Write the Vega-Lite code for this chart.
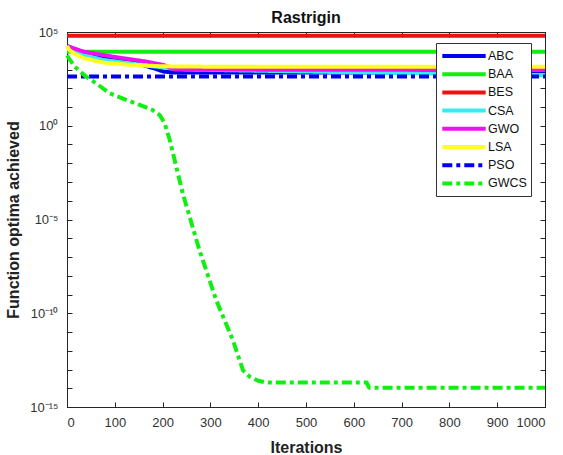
{
  "$schema": "https://vega.github.io/schema/vega-lite/v6.json",
  "width": 478,
  "height": 375,
  "autosize": {"type": "none"},
  "padding": {"left": 67, "top": 32, "right": 18, "bottom": 48},
  "background": "white",
  "title": {"text": "Rastrigin", "fontSize": 16, "fontWeight": "bold", "font": "Liberation Sans", "color": "#111111", "offset": 0},
  "data": {"values": [
    {"s": "ABC", "x": 0, "y": 17783},
    {"s": "ABC", "x": 35, "y": 7943},
    {"s": "ABC", "x": 97, "y": 3981},
    {"s": "ABC", "x": 132, "y": 2630},
    {"s": "ABC", "x": 181, "y": 1175},
    {"s": "ABC", "x": 202, "y": 776},
    {"s": "ABC", "x": 225, "y": 692},
    {"s": "ABC", "x": 1000, "y": 692},
    {"s": "BAA", "x": 0, "y": 8913},
    {"s": "BAA", "x": 1000, "y": 8913},
    {"s": "BES", "x": 0, "y": 63000},
    {"s": "BES", "x": 1000, "y": 63000},
    {"s": "CSA", "x": 0, "y": 17783},
    {"s": "CSA", "x": 14, "y": 9772},
    {"s": "CSA", "x": 35, "y": 5888},
    {"s": "CSA", "x": 76, "y": 3236},
    {"s": "CSA", "x": 132, "y": 2138},
    {"s": "CSA", "x": 173, "y": 1549},
    {"s": "CSA", "x": 210, "y": 1202},
    {"s": "CSA", "x": 250, "y": 1000},
    {"s": "CSA", "x": 600, "y": 708},
    {"s": "CSA", "x": 1000, "y": 501},
    {"s": "GWO", "x": 0, "y": 17783},
    {"s": "GWO", "x": 35, "y": 8913},
    {"s": "GWO", "x": 97, "y": 4786},
    {"s": "GWO", "x": 166, "y": 2630},
    {"s": "GWO", "x": 202, "y": 1738},
    {"s": "GWO", "x": 225, "y": 1000},
    {"s": "GWO", "x": 1000, "y": 933},
    {"s": "LSA", "x": 0, "y": 17783},
    {"s": "LSA", "x": 5, "y": 10965},
    {"s": "LSA", "x": 14, "y": 7244},
    {"s": "LSA", "x": 35, "y": 3981},
    {"s": "LSA", "x": 76, "y": 2344},
    {"s": "LSA", "x": 132, "y": 1778},
    {"s": "LSA", "x": 200, "y": 1479},
    {"s": "LSA", "x": 300, "y": 1413},
    {"s": "LSA", "x": 1000, "y": 1413},
    {"s": "PSO", "x": 0, "y": 417},
    {"s": "PSO", "x": 1000, "y": 417},
    {"s": "GWCS", "x": 0, "y": 5623},
    {"s": "GWCS", "x": 4, "y": 3981},
    {"s": "GWCS", "x": 16, "y": 1413},
    {"s": "GWCS", "x": 40, "y": 417},
    {"s": "GWCS", "x": 61, "y": 182},
    {"s": "GWCS", "x": 89, "y": 53.7},
    {"s": "GWCS", "x": 116, "y": 28.8},
    {"s": "GWCS", "x": 152, "y": 12.9},
    {"s": "GWCS", "x": 179, "y": 6.92},
    {"s": "GWCS", "x": 194, "y": 3.72},
    {"s": "GWCS", "x": 204, "y": 1.41},
    {"s": "GWCS", "x": 215, "y": 0.174},
    {"s": "GWCS", "x": 242, "y": 0.000257},
    {"s": "GWCS", "x": 277, "y": 2.34e-7},
    {"s": "GWCS", "x": 312, "y": 5.13e-10},
    {"s": "GWCS", "x": 347, "y": 3.72e-12},
    {"s": "GWCS", "x": 368, "y": 9.33e-14},
    {"s": "GWCS", "x": 382, "y": 4.17e-14},
    {"s": "GWCS", "x": 400, "y": 2.51e-14},
    {"s": "GWCS", "x": 417, "y": 2.0e-14},
    {"s": "GWCS", "x": 627, "y": 2.0e-14},
    {"s": "GWCS", "x": 632, "y": 1.07e-14},
    {"s": "GWCS", "x": 1000, "y": 1.07e-14}
  ]},
  "layer": [
    {
      "mark": {"type": "line", "strokeWidth": 4, "strokeCap": "butt", "strokeJoin": "round"},
      "encoding": {
        "x": {"field": "x", "type": "quantitative",
          "scale": {"domain": [0, 1000], "nice": false},
          "axis": {"orient": "bottom", "values": [0,100,200,300,400,500,600,700,800,900,1000], "format": "d", "title": "Iterations", "tickSize": -5, "labelPadding": 14, "titlePadding": 10}},
        "y": {"field": "y", "type": "quantitative",
          "scale": {"type": "log", "domain": [1e-15, 100000], "nice": false},
          "axis": {"orient": "left", "values": [1e-15,1e-14,1e-13,1e-12,1e-11,1e-10,1e-9,1e-8,1e-7,1e-6,1e-5,1e-4,1e-3,1e-2,1e-1,1,10,100,1000,10000,100000],
            "labelExpr": "round(log(datum.value)/LN10) == 5 ? '10⁵' : round(log(datum.value)/LN10) == 0 ? '10⁰' : round(log(datum.value)/LN10) == -5 ? '10⁻⁵' : round(log(datum.value)/LN10) == -10 ? '10⁻¹⁰' : round(log(datum.value)/LN10) == -15 ? '10⁻¹⁵' : ''",
            "title": "Function optima achieved", "tickSize": -5, "labelPadding": 14, "titlePadding": 8}},
        "color": {"field": "s", "type": "nominal",
          "scale": {"domain": ["ABC","BAA","BES","CSA","GWO","LSA","PSO","GWCS"],
            "range": ["#0000ee","#11ee11","#ee1111","#33eeee","#ee11ee","#ffff22","#0000ee","#11ee11"]},
          "legend": {"title": null}},
        "strokeDash": {"field": "s", "type": "nominal",
          "scale": {"domain": ["ABC","BAA","BES","CSA","GWO","LSA","PSO","GWCS"],
            "range": [[1,0],[1,0],[1,0],[1,0],[1,0],[1,0],[10,4,4,4],[10,4,4,4]]},
          "legend": {"title": null}}
      }
    },
    {
      "mark": {"type": "point", "opacity": 0},
      "encoding": {
        "x": {"field": "x", "type": "quantitative", "axis": {"orient": "top", "values": [0,100,200,300,400,500,600,700,800,900,1000], "labels": false, "title": null, "tickSize": -5}},
        "y": {"field": "y", "type": "quantitative", "axis": {"orient": "right", "values": [1e-15,1e-14,1e-13,1e-12,1e-11,1e-10,1e-9,1e-8,1e-7,1e-6,1e-5,1e-4,1e-3,1e-2,1e-1,1,10,100,1000,10000,100000], "labels": false, "title": null, "tickSize": -5}}
      }
    }
  ],
  "resolve": {"axis": {"x": "independent", "y": "independent"}},
  "config": {
    "font": "Liberation Sans",
    "view": {"stroke": "#262626", "strokeWidth": 1},
    "axis": {"grid": false, "domainColor": "#262626", "tickColor": "#262626", "labelColor": "#333333", "labelFont": "Liberation Sans", "labelFontSize": 13, "titleFont": "Liberation Sans", "titleFontSize": 16, "titleFontWeight": "bold", "titleColor": "#222222", "domainWidth": 1, "tickWidth": 1},
    "legend": {
      "orient": "none", "legendX": 369, "legendY": 11,
      "fillColor": "white", "strokeColor": "#333333", "padding": 4,
      "symbolType": "M-3.1,0H3.1", "symbolSize": 196, "symbolStrokeWidth": 4, "symbolOffset": 15,
      "labelOffset": 15, "labelFont": "Liberation Sans", "labelFontSize": 12.5, "labelColor": "#111111",
      "rowPadding": 1.2, "labelExpr": "datum.label + '        '"
    }
  }
}
